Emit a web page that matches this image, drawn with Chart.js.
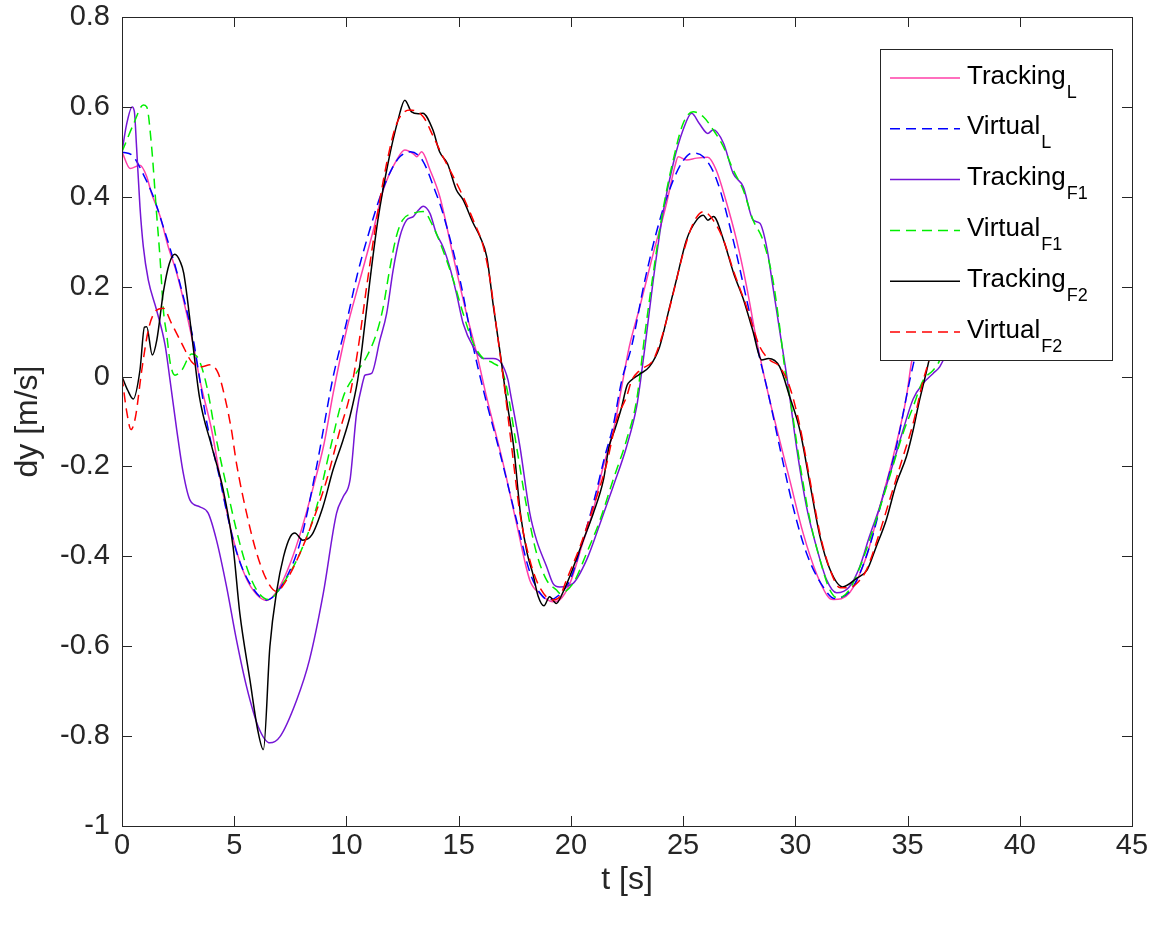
<!DOCTYPE html>
<html>
<head>
<meta charset="utf-8">
<script src="https://cdn.jsdelivr.net/npm/chart.js@4.4.1/dist/chart.umd.min.js"></script>
<style>
  body { margin: 0; background: #fff; }
</style>
</head>
<body>
<canvas id="myChart" width="1174" height="926"></canvas>
<script>
// valores (t en s, dy en m/s)
var tTrackL = [0,0.36,0.8,1.1,1.3,1.7,2.06,2.44,2.88,3.25,3.47,4.0,4.5,5.0,5.5,6.0,6.45,7.0,7.5,8.0,8.5,9.0,9.41,10.0,10.6,11.2,11.64,12.24,12.6,13.0,13.13,13.35,13.72,14.16,14.76,15.35,15.8,16.24,16.98,17.58,18.17,18.6,19.2,19.5,19.96,20.5,21.0,21.4,21.9,22.2,22.6,23.07,23.67,24.26,24.63,24.78,25.15,25.6,26.1,26.47,26.9,27.38,27.83,28.27,28.72,29.0,29.75,30.35,30.94,31.54,31.7,32.4,33.17,33.76,34.36,34.95,35.17,35.6,36.2];
var vTrackL = [0.5,0.463,0.47,0.445,0.41,0.356,0.289,0.23,0.14,0.052,-0.008,-0.12,-0.26,-0.37,-0.445,-0.485,-0.498,-0.47,-0.415,-0.34,-0.25,-0.15,-0.037,0.103,0.215,0.326,0.415,0.482,0.504,0.495,0.489,0.5,0.46,0.4,0.267,0.14,0.052,-0.045,-0.193,-0.327,-0.453,-0.482,-0.501,-0.497,-0.46,-0.375,-0.297,-0.208,-0.119,-0.04,0.066,0.155,0.274,0.385,0.467,0.489,0.482,0.486,0.488,0.46,0.393,0.304,0.2,0.081,-0.023,-0.082,-0.23,-0.349,-0.438,-0.494,-0.496,-0.482,-0.4,-0.29,-0.178,-0.045,0.03,0.12,0.24];

var tVirtL = [0,0.5,0.95,1.4,1.84,2.29,2.73,3.18,3.47,3.77,4.37,4.66,5.1,5.68,6.45,7.18,7.93,8.67,9.41,10.0,10.5,11.0,11.5,12.0,12.4,12.85,13.4,13.9,14.3,15.06,15.65,16.1,16.84,17.58,18.17,18.6,19.0,19.5,19.96,20.5,21.0,21.5,21.88,22.26,22.7,23.3,23.96,24.56,25.0,25.4,25.9,26.5,27.23,27.8,28.4,28.79,29.3,29.9,30.5,31.24,31.76,32.57,33.3,33.9,34.5,35.1,35.6,36.2];
var vVirtL = [0.5,0.49,0.45,0.4,0.333,0.26,0.178,0.081,-0.008,-0.1,-0.23,-0.3,-0.39,-0.459,-0.497,-0.46,-0.37,-0.2,0.0,0.12,0.23,0.32,0.4,0.46,0.49,0.5,0.48,0.42,0.363,0.215,0.066,-0.03,-0.17,-0.32,-0.435,-0.48,-0.497,-0.485,-0.453,-0.37,-0.282,-0.18,-0.11,-0.01,0.066,0.215,0.348,0.437,0.48,0.497,0.489,0.437,0.304,0.178,0.044,-0.037,-0.156,-0.29,-0.393,-0.468,-0.494,-0.468,-0.379,-0.267,-0.156,-0.008,0.1,0.22];

var tTrackF1 = [0,0.2,0.45,0.55,0.65,0.8,0.95,1.17,1.54,1.92,2.14,2.44,2.73,3.03,3.47,3.84,4.21,4.66,5.1,5.55,6.07,6.59,7.04,7.78,8.35,8.97,9.56,9.86,10.16,10.45,10.75,10.82,11.12,11.49,11.79,12.08,12.38,12.68,12.98,13.2,13.42,13.72,14.0,14.3,14.6,14.9,15.2,15.65,16.1,16.54,16.9,17.2,17.28,17.73,18.17,18.47,18.92,19.2,19.5,20.1,20.7,21.3,21.88,22.48,22.93,23.1,23.3,23.67,24.1,24.56,25.0,25.38,25.72,26.1,26.34,26.8,27.23,27.68,28.12,28.42,28.72,29.0,29.3,29.6,29.75,30.05,30.5,30.94,31.4,31.84,32.4,32.87,33.3,33.76,34.36,34.8,35.25,35.7,36.14,36.44,36.7,37.0];
var vTrackF1 = [0.5,0.56,0.6,0.59,0.51,0.378,0.289,0.215,0.148,0.07,-0.008,-0.119,-0.215,-0.275,-0.29,-0.304,-0.364,-0.468,-0.586,-0.69,-0.779,-0.815,-0.801,-0.72,-0.631,-0.482,-0.304,-0.267,-0.23,-0.082,-0.008,0.003,0.007,0.081,0.14,0.237,0.311,0.348,0.356,0.37,0.379,0.363,0.319,0.289,0.244,0.185,0.118,0.066,0.04,0.04,0.03,-0.008,-0.03,-0.156,-0.304,-0.364,-0.423,-0.46,-0.468,-0.46,-0.408,-0.327,-0.245,-0.156,-0.067,-0.01,0.066,0.215,0.363,0.474,0.549,0.586,0.563,0.541,0.549,0.519,0.452,0.422,0.348,0.341,0.289,0.2,0.103,0.007,-0.045,-0.156,-0.29,-0.379,-0.453,-0.481,-0.468,-0.423,-0.356,-0.29,-0.193,-0.119,-0.05,-0.015,0.007,0.022,0.05,0.1];

var tVirtF1 = [0,0.5,0.95,1.1,1.32,1.54,1.7,1.84,2.0,2.15,2.36,2.66,3.1,3.4,3.77,4.21,4.66,5.1,5.55,6.0,6.52,7.18,7.93,8.67,9.26,9.86,10.4,10.9,11.34,11.64,11.92,12.22,12.5,12.98,13.42,13.87,14.3,14.76,15.2,15.65,16.1,16.54,16.98,17.2,17.58,18.03,18.47,18.92,19.36,19.5,20.1,20.7,21.3,21.88,22.48,22.93,23.3,23.67,24.1,24.56,25.0,25.45,25.9,26.34,26.8,27.23,27.68,28.12,28.55,29.0,29.3,29.6,29.75,30.2,30.65,31.1,31.54,31.9,32.4,33.0,33.6,34.2,34.8,35.25,35.7,36.14,36.44,36.8];
var vVirtF1 = [0.5,0.56,0.604,0.6,0.511,0.363,0.26,0.15,0.09,0.03,0.003,0.014,0.05,0.04,-0.02,-0.141,-0.245,-0.342,-0.423,-0.475,-0.496,-0.46,-0.393,-0.29,-0.164,-0.045,0.005,0.044,0.096,0.155,0.237,0.311,0.348,0.363,0.367,0.333,0.281,0.215,0.14,0.074,0.04,0.03,0.007,-0.04,-0.156,-0.29,-0.393,-0.453,-0.475,-0.482,-0.46,-0.393,-0.319,-0.23,-0.141,-0.052,0.096,0.23,0.37,0.482,0.563,0.589,0.578,0.549,0.511,0.46,0.415,0.348,0.304,0.215,0.111,-0.008,-0.045,-0.193,-0.319,-0.408,-0.475,-0.493,-0.475,-0.408,-0.319,-0.223,-0.126,-0.067,-0.008,0.014,0.037,0.09];

var tTrackF2 = [0,0.25,0.5,0.8,1.0,1.1,1.35,1.55,1.85,2.1,2.35,2.6,2.75,3.1,3.45,4.0,4.5,4.95,5.25,5.7,6.05,6.3,6.59,6.9,7.2,7.5,7.7,8.05,8.45,8.95,9.4,9.85,10.15,10.5,10.7,11.05,11.4,11.85,12.3,12.6,12.9,13.2,13.4,13.85,14.15,14.5,14.9,15.2,15.65,15.95,16.25,16.55,16.85,17.1,17.45,17.75,18.05,18.3,18.55,18.8,19.05,19.35,19.55,19.95,20.55,21.0,21.45,21.7,21.95,22.25,22.5,22.65,23.05,23.5,23.95,24.4,24.7,25.15,25.6,25.9,26.1,26.35,26.8,27.25,27.7,28.1,28.5,28.8,29.3,29.75,30.2,30.65,31.1,31.55,32.1,32.7,33.2,33.6,34.05,34.5,34.95,35.25,35.5,35.75,35.95,36.3];
var vTrackF2 = [0,-0.03,-0.05,0.014,0.11,0.111,0.048,0.081,0.19,0.25,0.272,0.255,0.23,0.096,-0.045,-0.156,-0.25,-0.379,-0.527,-0.675,-0.787,-0.83,-0.6,-0.475,-0.4,-0.356,-0.348,-0.364,-0.353,-0.29,-0.208,-0.141,-0.09,-0.008,0.066,0.215,0.348,0.474,0.571,0.615,0.589,0.585,0.586,0.549,0.5,0.474,0.415,0.393,0.341,0.311,0.267,0.155,0.052,-0.04,-0.156,-0.304,-0.393,-0.438,-0.49,-0.51,-0.49,-0.505,-0.49,-0.445,-0.364,-0.304,-0.23,-0.156,-0.119,-0.07,-0.02,-0.01,0.005,0.022,0.066,0.155,0.215,0.304,0.348,0.359,0.348,0.356,0.304,0.23,0.17,0.103,0.037,0.04,0.022,-0.045,-0.119,-0.238,-0.356,-0.43,-0.468,-0.45,-0.43,-0.379,-0.319,-0.238,-0.178,-0.119,-0.06,-0.008,0.035,0.12];

var tVirtF2 = [0,0.2,0.4,0.6,0.88,1.17,1.47,1.84,2.21,2.66,3.1,3.55,3.92,4.29,4.6,4.88,5.1,5.55,6.0,6.45,6.89,7.33,7.93,8.52,9.12,9.71,10.16,10.53,10.9,11.34,11.79,12.24,12.83,13.42,13.87,14.3,14.76,15.2,15.65,16.1,16.4,16.7,17.0,17.36,17.73,18.17,18.6,19.2,19.5,19.8,20.4,21.0,21.6,22.03,22.48,22.7,23.07,23.67,24.1,24.56,25.0,25.45,25.9,26.34,26.8,27.23,27.83,28.42,28.86,29.3,29.75,30.2,30.65,31.1,31.55,32.0,32.4,32.87,33.17,33.6,34.2,34.8,35.25,35.7,35.92,36.3];
var vVirtF2 = [0,-0.075,-0.118,-0.09,0.014,0.103,0.144,0.152,0.118,0.074,0.033,0.022,0.026,0.007,-0.05,-0.12,-0.193,-0.304,-0.393,-0.453,-0.478,-0.453,-0.393,-0.319,-0.23,-0.119,-0.04,0.066,0.2,0.348,0.474,0.563,0.593,0.578,0.534,0.489,0.445,0.4,0.348,0.289,0.215,0.103,-0.008,-0.156,-0.304,-0.408,-0.468,-0.497,-0.49,-0.453,-0.379,-0.29,-0.193,-0.097,-0.045,-0.01,0.014,0.037,0.096,0.185,0.274,0.341,0.367,0.348,0.304,0.237,0.155,0.066,0.037,0.022,-0.023,-0.11,-0.23,-0.35,-0.43,-0.47,-0.47,-0.453,-0.43,-0.371,-0.275,-0.178,-0.104,-0.008,0.03,0.11];

var nombres = ['Tracking', 'Virtual', 'Tracking', 'Virtual', 'Tracking', 'Virtual'];
var subs = ['L', 'L', 'F1', 'F1', 'F2', 'F2'];
var colores = ['#ff3fa8', '#0000ff', '#7516d6', '#00ee00', '#000000', '#ff0000'];

var fuente = "'Liberation Sans', Arial, sans-serif";
var gris = '#262626';

function puntos(t, v) {
    var p = [];
    for (var i = 0; i < Math.min(t.length, v.length); i++) {
        p.push({x: t[i], y: v[i]});
    }
    return p;
}

var series = [
    puntos(tTrackL, vTrackL),
    puntos(tVirtL, vVirtL),
    puntos(tTrackF1, vTrackF1),
    puntos(tVirtF1, vVirtF1),
    puntos(tTrackF2, vTrackF2),
    puntos(tVirtF2, vVirtF2)
];

var datasets = [];
for (var i = 0; i < series.length; i++) {
    var dash = (i % 2 == 1) ? [10, 6] : [];
    datasets.push({
        label: nombres[i] + '_' + subs[i],
        data: series[i],
        borderColor: colores[i],
        backgroundColor: colores[i],
        borderWidth: 1.5,
        borderDash: dash,
        pointRadius: 0,
        fill: false,
        cubicInterpolationMode: 'monotone',
        order: series.length - i
    });
}

// marco con ticks hacia dentro + leyenda tipo matlab
var marco = {
    id: 'marco',
    afterDatasetsDraw: function(chart) {
        var ctx = chart.ctx;
        var a = chart.chartArea;
        var xs = chart.scales.x, ys = chart.scales.y;
        ctx.save();
        ctx.strokeStyle = gris;
        ctx.lineWidth = 1;
        ctx.setLineDash([]);
        ctx.strokeRect(Math.round(a.left) + 0.5, Math.round(a.top) + 0.5, Math.round(a.right - a.left), Math.round(a.bottom - a.top));
        ctx.beginPath();
        xs.ticks.forEach(function(t) {
            var px = Math.round(xs.getPixelForValue(t.value)) + 0.5;
            ctx.moveTo(px, a.bottom); ctx.lineTo(px, a.bottom - 10);
            ctx.moveTo(px, a.top); ctx.lineTo(px, a.top + 10);
        });
        ys.ticks.forEach(function(t) {
            var py = Math.round(ys.getPixelForValue(t.value)) + 0.5;
            ctx.moveTo(a.left, py); ctx.lineTo(a.left + 10, py);
            ctx.moveTo(a.right, py); ctx.lineTo(a.right - 10, py);
        });
        ctx.stroke();

        // leyenda
        var lx = 880, ly = 49, lw = 232, lh = 311;
        ctx.fillStyle = '#fff';
        ctx.fillRect(lx, ly, lw, lh);
        ctx.strokeStyle = gris;
        ctx.strokeRect(lx + 0.5, ly + 0.5, lw, lh);
        for (var i = 0; i < nombres.length; i++) {
            var yy = 78 + i * 50.8;
            ctx.beginPath();
            ctx.strokeStyle = colores[i];
            ctx.lineWidth = 1.5;
            ctx.setLineDash(i % 2 == 1 ? [10, 6] : []);
            ctx.moveTo(890, yy);
            ctx.lineTo(960, yy);
            ctx.stroke();
            ctx.setLineDash([]);
            ctx.fillStyle = '#000';
            ctx.textBaseline = 'alphabetic';
            ctx.textAlign = 'left';
            ctx.font = '26px ' + fuente;
            ctx.fillText(nombres[i], 967, yy + 5.5);
            var w = ctx.measureText(nombres[i]).width;
            ctx.font = '18px ' + fuente;
            ctx.fillText(subs[i], 967 + w + 1, yy + 19.5);
        }
        ctx.restore();
    }
};

var ctx = document.getElementById('myChart').getContext('2d');
var chart = new Chart(ctx, {
    type: 'line',
    data: { datasets: datasets },
    options: {
        responsive: false,
        animation: false,
        layout: { padding: { left: 0, top: 17, right: 42, bottom: 0 } },
        plugins: {
            legend: { display: false },
            tooltip: { enabled: false }
        },
        scales: {
            x: {
                type: 'linear',
                min: 0, max: 45,
                ticks: { stepSize: 5, color: gris, padding: 3, font: { family: fuente, size: 29 }, maxRotation: 0 },
                grid: { display: false, drawTicks: false },
                border: { display: false },
                title: { display: true, text: 't [s]', color: gris, font: { family: fuente, size: 32 }, padding: { top: 0, bottom: 27 } },
                afterFit: function(s) { s.height = 100; s.paddingLeft = 0; s.paddingRight = 0; }
            },
            y: {
                type: 'linear',
                min: -1, max: 0.8,
                ticks: { stepSize: 0.2, color: gris, padding: 12, font: { family: fuente, size: 29 },
                    callback: function(v) { return Math.round(v * 10) / 10; } },
                grid: { display: false, drawTicks: false },
                border: { display: false },
                title: { display: true, text: 'dy [m/s]', color: gris, font: { family: fuente, size: 32 }, padding: { top: 9, bottom: 0 } },
                afterFit: function(s) { s.width = 122; s.paddingTop = 0; s.paddingBottom = 0; }
            }
        }
    },
    plugins: [marco]
});
</script>
</body>
</html>
